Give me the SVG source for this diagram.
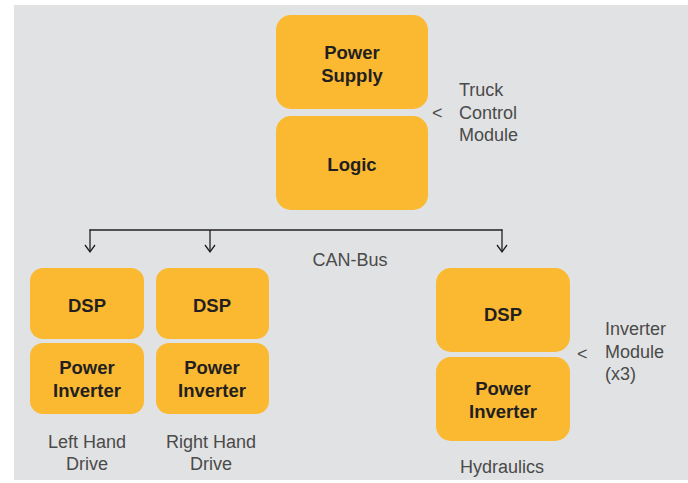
<svg xmlns="http://www.w3.org/2000/svg" width="688" height="483" viewBox="0 0 688 483">
<defs>
<style>
.box{fill:#fbb931}
.bt{font-family:"Liberation Sans",Arial,sans-serif;font-weight:bold;font-size:18.5px;fill:#231f20;text-anchor:middle}
.lb{font-family:"Liberation Sans",Arial,sans-serif;font-size:18px;fill:#4a4a4a}
.c{text-anchor:middle}
.ln{fill:none;stroke:#231f20;stroke-width:1.3}
</style>
<marker id="ah" markerWidth="12" markerHeight="12" refX="6" refY="10" markerUnits="userSpaceOnUse">
<path d="M1,3 L6,10 L11,3" fill="none" stroke="#231f20" stroke-width="1.3"/>
</marker>
</defs>
<rect width="688" height="483" fill="#ffffff"/>
<rect x="14" y="5" width="674" height="475" fill="#e1e2e3"/>
<g id="tcm">
<g id="power-supply"><rect class="box" x="276" y="15" width="152" height="94" rx="15"/><text class="bt" x="352" y="59">Power</text><text class="bt" x="352" y="82">Supply</text></g>
<g id="logic"><rect class="box" x="276" y="116" width="152" height="94" rx="15"/><text class="bt" x="352" y="171">Logic</text></g>
<g id="tcm-label"><text class="lb" x="432" y="119">&lt;</text><text class="lb" x="459" y="96">Truck</text><text class="lb" x="459" y="119">Control</text><text class="lb" x="459" y="141">Module</text></g>
</g>
<g id="connectors">
<path class="ln" d="M89.5,230 H502.5"/>
<path class="ln" d="M90,229.4 V252" marker-end="url(#ah)"/>
<path class="ln" d="M210,230 V252" marker-end="url(#ah)"/>
<path class="ln" d="M502,229.4 V252" marker-end="url(#ah)"/>
</g>
<text class="lb c" x="350" y="266">CAN-Bus</text>
<g id="lhd">
<g id="lhd-dsp"><rect class="box" x="30" y="268" width="114" height="71" rx="13"/><text class="bt" x="87" y="312">DSP</text></g>
<g id="lhd-inv"><rect class="box" x="30" y="343" width="114" height="71" rx="13"/><text class="bt" x="87" y="374">Power</text><text class="bt" x="87" y="397">Inverter</text></g>
<text class="lb c" x="87" y="448">Left Hand</text><text class="lb c" x="87" y="470">Drive</text>
</g>
<g id="rhd">
<g id="rhd-dsp"><rect class="box" x="156" y="268" width="113" height="71" rx="13"/><text class="bt" x="212" y="312">DSP</text></g>
<g id="rhd-inv"><rect class="box" x="156" y="343" width="113" height="71" rx="13"/><text class="bt" x="212" y="374">Power</text><text class="bt" x="212" y="397">Inverter</text></g>
<text class="lb c" x="211" y="448">Right Hand</text><text class="lb c" x="211" y="470">Drive</text>
</g>
<g id="hyd">
<g id="hyd-dsp"><rect class="box" x="436" y="268" width="134" height="84" rx="15"/><text class="bt" x="503" y="321">DSP</text></g>
<g id="hyd-inv"><rect class="box" x="436" y="357" width="134" height="84" rx="15"/><text class="bt" x="503" y="395">Power</text><text class="bt" x="503" y="418">Inverter</text></g>
<text class="lb c" x="502" y="473">Hydraulics</text>
<g id="im-label"><text class="lb" x="577" y="360">&lt;</text><text class="lb" x="605" y="335">Inverter</text><text class="lb" x="605" y="358">Module</text><text class="lb" x="605" y="380">(x3)</text></g>
</g>
</svg>
